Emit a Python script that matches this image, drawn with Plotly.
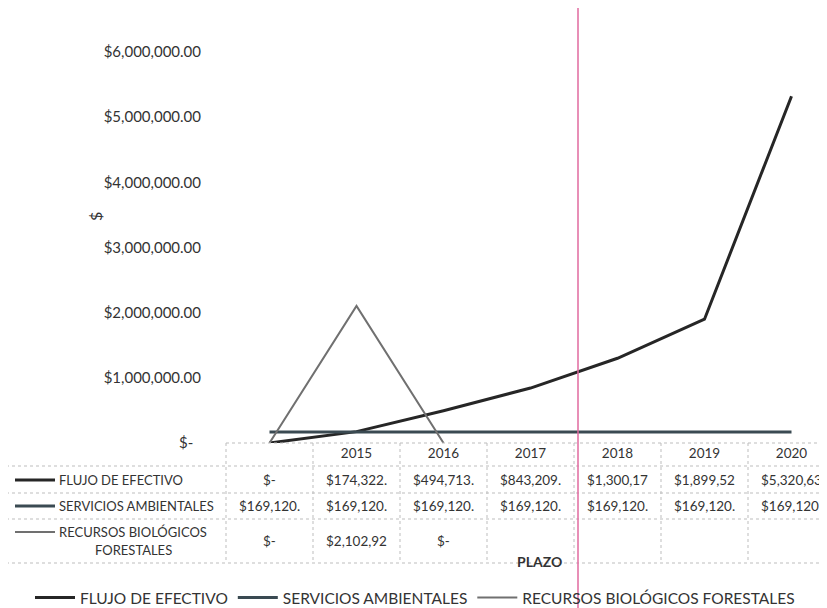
import plotly.graph_objects as go

# ---- data ----
PERIODOS = ["", "2015", "2016", "2017", "2018", "2019", "2020"]
FLUJO = [0, 174322, 494713, 843209, 1300170, 1899520, 5320630]
SERVICIOS = [169120, 169120, 169120, 169120, 169120, 169120, 169120]
RECURSOS = [0, 2102920, 0, None, None, None, None]

FLUJO_TXT = ["$-", "$174,322.", "$494,713.", "$843,209.", "$1,300,17", "$1,899,52", "$5,320,63"]
SERVICIOS_TXT = ["$169,120."] * 7
RECURSOS_TXT = ["$-", "$2,102,92", "$-", "", "", "", ""]

Y_TICKS = [0, 1000000, 2000000, 3000000, 4000000, 5000000, 6000000]
Y_TICKTEXT = ["$-\u00a0\u00a0", "$1,000,000.00", "$2,000,000.00", "$3,000,000.00",
              "$4,000,000.00", "$5,000,000.00", "$6,000,000.00"]

NAMES = ["FLUJO DE EFECTIVO", "SERVICIOS AMBIENTALES", "RECURSOS BIOLÓGICOS FORESTALES"]
COLORS = ["#262626", "#3a4a52", "#707070"]
WIDTHS = [3, 3, 2]

# page has an 8px body margin: figure origin sits at (8, 8) in the window
O = 8
W, H = 827 - O, 608 - O
L, T = 226 - O, 52 - O
PW = W - L
PH = 391
B = H - T - PH
STEP = 87.0
FONT = "Lato"
TXT = "#333333"


def px(x):
    """window x pixel -> paper x"""
    return (x - O - L) / PW


def py(y):
    """window y pixel -> paper y"""
    return (T + PH - (y - O)) / PH


xs = list(range(len(PERIODOS)))
fig = go.Figure()
for name, vals, col, wd in zip(NAMES, [FLUJO, SERVICIOS, RECURSOS], COLORS, WIDTHS):
    fig.add_trace(go.Scatter(x=xs, y=vals, mode="lines", name=name,
                             line=dict(color=col, width=wd), connectgaps=False))

shapes = []
grid = dict(color="#bdbdbd", width=1, dash="dot")
# table horizontal borders
for y, x0 in [(443, 226), (466, 0), (493, 0), (519, 0), (563, 0)]:
    shapes.append(dict(type="line", xref="paper", yref="paper", x0=px(x0), x1=1,
                       y0=py(y), y1=py(y), line=grid))
# table vertical borders
shapes.append(dict(type="line", xref="paper", yref="paper", x0=0, x1=0,
                   y0=py(443), y1=py(563), line=grid))
for i in range(len(PERIODOS) - 1):
    shapes.append(dict(type="line", xref="x", yref="paper", x0=i + 0.5, x1=i + 0.5,
                       y0=py(443), y1=py(563), line=grid))

annotations = []
# table values
for row_txt, yc in [(FLUJO_TXT, 480), (SERVICIOS_TXT, 506), (RECURSOS_TXT, 541)]:
    for i, t in enumerate(row_txt):
        if t:
            annotations.append(dict(x=i, y=py(yc), xref="x", yref="paper", text=t,
                                    showarrow=False, xanchor="center", yanchor="middle",
                                    font=dict(family=FONT, size=13.5, color=TXT)))
# row labels with keys
row_labels = [("FLUJO DE EFECTIVO", 480), ("SERVICIOS AMBIENTALES", 506), ("RECURSOS BIOLÓGICOS", 532)]
for (lab, yc), col, wd in zip(row_labels, COLORS, WIDTHS):
    shapes.append(dict(type="line", xref="paper", yref="paper", x0=px(15), x1=px(55),
                       y0=py(yc), y1=py(yc), line=dict(color=col, width=wd)))
    annotations.append(dict(x=px(57), y=py(yc), xref="paper", yref="paper", text=lab,
                            showarrow=False, xanchor="left", yanchor="middle",
                            font=dict(family=FONT, size=13, color=TXT)))
annotations.append(dict(x=px(133), y=py(550), xref="paper", yref="paper", text="FORESTALES",
                        showarrow=False, xanchor="center", yanchor="middle",
                        font=dict(family=FONT, size=13, color=TXT)))
# axis titles
annotations.append(dict(x=px(539), y=py(561), xref="paper", yref="paper", text="<b>PLAZO</b>",
                        showarrow=False, xanchor="center", yanchor="middle",
                        font=dict(family=FONT, size=14, color=TXT)))
annotations.append(dict(x=px(95), y=py(217), xref="paper", yref="paper", text="$",
                        showarrow=False, xanchor="center", yanchor="middle", textangle=-90,
                        font=dict(family=FONT, size=16, color=TXT)))

# pink scan line
shapes.append(dict(type="line", xref="paper", yref="paper", x0=px(578), x1=px(578),
                   y0=py(0), y1=py(608), line=dict(color="#e06a9f", width=1.5)))

fig.update_layout(
    width=W, height=H,
    margin=dict(l=L, r=0, t=T, b=B, autoexpand=False),
    paper_bgcolor="white", plot_bgcolor="white",
    font=dict(family=FONT, color=TXT),
    showlegend=True,
    legend=dict(orientation="h", x=px(30), xanchor="left",
                y=py(598), yanchor="middle", itemwidth=40,
                font=dict(family=FONT, size=15.5, color=TXT), bgcolor="rgba(0,0,0,0)"),
    xaxis=dict(range=[-0.5, -0.5 + PW / STEP], tickvals=xs, ticktext=PERIODOS,
               showgrid=False, zeroline=False, showline=False, ticks="",
               tickfont=dict(family=FONT, size=13.5, color=TXT), fixedrange=True),
    yaxis=dict(range=[0, 6000000], tickvals=Y_TICKS, ticktext=Y_TICKTEXT,
               showgrid=False, zeroline=False, showline=False, ticks="",
               ticklabelstandoff=24,
               tickfont=dict(family=FONT, size=15, color=TXT), fixedrange=True),
    shapes=shapes, annotations=annotations,
)

fig.write_html("out.html")
